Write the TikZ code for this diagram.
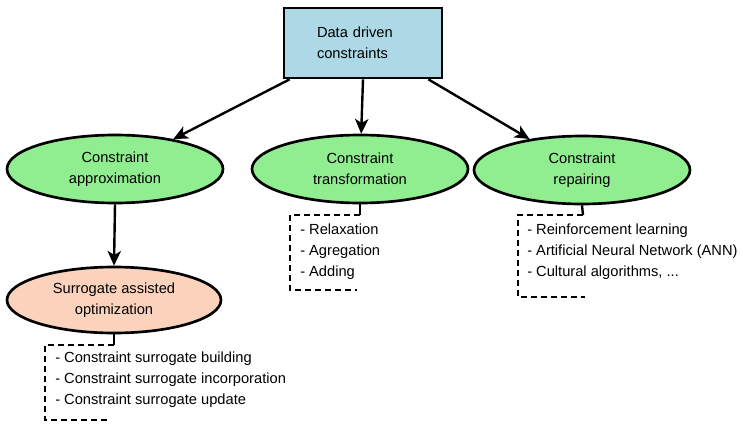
\documentclass[tikz,border=0pt]{standalone}
\usepackage{fontspec}
\setmainfont{Liberation Sans}
\usetikzlibrary{shapes.geometric,arrows.meta}
\definecolor{boxblue}{HTML}{ADD8E6}
\definecolor{leafgreen}{HTML}{90EE90}
\definecolor{peach}{HTML}{FBD3BD}

\begin{document}
\begin{tikzpicture}[x=0.75pt, y=-0.75pt,
    every node/.style={font=\fontsize{11}{15.75}\selectfont},
    topbox/.style={draw=black, line width=2pt, fill=boxblue, align=left,
      text width=69pt, inner xsep=24.75pt, minimum height=52.5pt},
    branch/.style={ellipse, draw=black, line width=2pt, fill=leafgreen, align=center,
      inner sep=0pt, minimum width=162pt, minimum height=51pt},
    arrow/.style={line width=1.8pt, -{Stealth[length=11pt, width=10pt, inset=3pt]}},
    stub/.style={line width=1.8pt},
    bracket/.style={line width=1.8pt, dash pattern=on 4.5pt off 3pt},
    items/.style={anchor=west, align=left, inner sep=0pt}]
      \useasboundingbox (0,0) rectangle (743,425);

      \node[topbox](data) at (363,43){Data driven\\constraints};
      \node[branch](approx) at (115,169){Constraint\\approximation};
      \node[branch](transf) at (360,169){Constraint\\transformation};
      \node[branch](repair) at (582,170){Constraint\\repairing};
      \node[branch, fill=peach, minimum width=160.5pt, minimum height=49.5pt](surr) at (114,300){Surrogate assisted\\optimization};

      \draw[arrow] ([xshift=5.25pt]data.south west) -- (approx);
      \draw[arrow] (data.south) -- (transf);
      \draw[arrow] ([xshift=-11.25pt]data.south east) -- (repair);
      \draw[arrow] (approx.south) -- (surr.north);

      \coordinate (tstub) at (360,215);
      \coordinate (rstub) at (583,215);
      \coordinate (sstub) at (114,345);
      \draw[stub] (transf.south) -- (tstub);
      \draw[stub] (repair.south) -- (rstub);
      \draw[stub] (surr.south) -- (sstub);
      \draw[bracket] (tstub) -- ++(-70,0) -- ++(0,75) -- ++(67,0);
      \draw[bracket] (rstub) -- ++(-65,0) -- ++(0,82) -- ++(67,0);
      \draw[bracket] (sstub) -- ++(-69,0) -- ++(0,75) -- ++(64,0);

      \node[items](tlist) at (300,252){- Relaxation\\- Agregation\\- Adding};
      \node[items](rlist) at (527,252){- Reinforcement learning\\- Artificial Neural Network (ANN)\\- Cultural algorithms, ...};
      \node[items](slist) at (55,380){- Constraint surrogate building\\- Constraint surrogate incorporation\\- Constraint surrogate update};
    \end{tikzpicture}
\end{document}
